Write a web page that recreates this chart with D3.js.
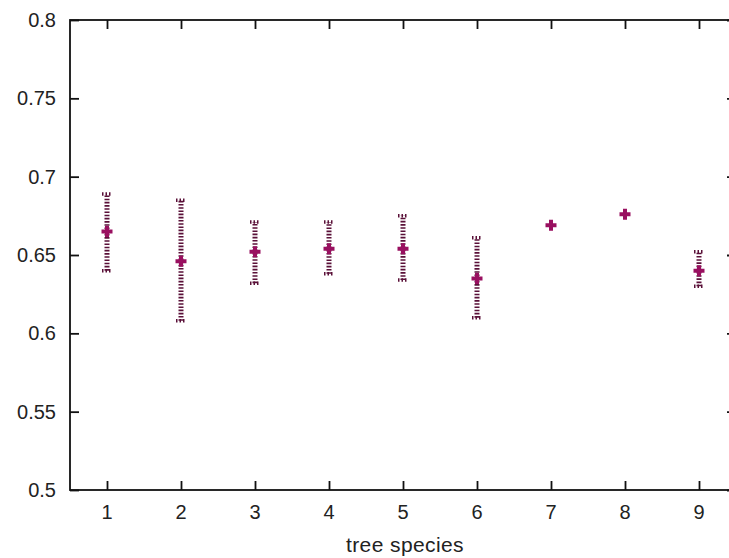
<!DOCTYPE html>
<html><head><meta charset="utf-8">
<script src="https://cdn.jsdelivr.net/npm/d3@7"></script>
<style>body{margin:0;background:#fff}svg{display:block}</style>
</head><body>
<svg id="c" width="729" height="558"></svg>
<script>
const categories = [1,2,3,4,5,6,7,8,9];
const means = [0.665,0.646,0.652,0.654,0.654,0.635,0.669,0.676,0.640];
const lows  = [0.640,0.608,0.632,0.638,0.634,0.610,null,null,0.630];
const highs = [0.689,0.685,0.671,0.671,0.675,0.661,null,null,0.652];
const yTicks = [0.5,0.55,0.6,0.65,0.7,0.75,0.8];
const yTickLabels = ["0.5","0.55","0.6","0.65","0.7","0.75","0.8"];
const xLabel = "tree species";

const svg = d3.select("#c");
const L=70, R=736, T=20, B=490;
const x = d3.scaleLinear().domain([0.5,9.5]).range([L,R]);
const y = d3.scaleLinear().domain([0.5,0.8]).range([B,T]);
const font = "'Liberation Sans', Arial, Helvetica, sans-serif";
const col = "#991060";
const barCol = "#5a1038";

// frame
svg.append("rect").attr("x",L).attr("y",T).attr("width",R-L).attr("height",B-T)
  .attr("fill","none").attr("stroke","#111").attr("stroke-width",1.8);

// axes
const yAx = svg.append("g").attr("transform",`translate(${L},0)`)
  .call(d3.axisRight(y).tickValues(yTicks).tickSize(9).tickFormat(""));
const yAxR = svg.append("g").attr("transform",`translate(${R},0)`)
  .call(d3.axisLeft(y).tickValues(yTicks).tickSize(9).tickFormat(""));
const xAx = svg.append("g").attr("transform",`translate(0,${B})`)
  .call(d3.axisTop(x).tickValues(categories).tickSize(9).tickFormat(""));
const xAxT = svg.append("g").attr("transform",`translate(0,${T})`)
  .call(d3.axisBottom(x).tickValues(categories).tickSize(9).tickFormat(""));
[yAx,yAxR,xAx,xAxT].forEach(g=>{
  g.select(".domain").remove();
  g.selectAll(".tick line").attr("stroke","#111").attr("stroke-width",1.8);
});

// tick labels
svg.append("g").selectAll("text").data(yTicks).join("text")
  .attr("x",L-14).attr("y",d=>y(d)).attr("dy","0.35em")
  .attr("text-anchor","end").attr("font-family",font).attr("font-size",20).attr("fill","#222")
  .text((d,i)=>yTickLabels[i]);
svg.append("g").selectAll("text").data(categories).join("text")
  .attr("x",d=>x(d)).attr("y",B+22).attr("dy","0.35em")
  .attr("text-anchor","middle").attr("font-family",font).attr("font-size",20).attr("fill","#222")
  .text(d=>d);
svg.append("text").attr("x",405).attr("y",545).attr("dy","0.35em")
  .attr("text-anchor","middle").attr("font-family",font).attr("font-size",21).attr("fill","#222")
  .attr("letter-spacing","0.4px")
  .text(xLabel);

// error bars
const eb = categories.map((c,i)=>({c,m:means[i],lo:lows[i],hi:highs[i]})).filter(d=>d.lo!=null);
const g = svg.append("g");
g.selectAll("line.bar").data(eb).join("line").attr("class","bar")
  .attr("x1",d=>x(d.c)).attr("x2",d=>x(d.c))
  .attr("y1",d=>y(d.lo)).attr("y2",d=>y(d.hi))
  .attr("stroke",barCol).attr("stroke-width",5).attr("stroke-dasharray","1.6,1.6");
["lo","hi"].forEach(k=>{
  g.selectAll("line.cap"+k).data(eb).join("line").attr("class","cap"+k)
    .attr("x1",d=>x(d.c)-5).attr("x2",d=>x(d.c)+5)
    .attr("y1",d=>y(d[k])).attr("y2",d=>y(d[k]))
    .attr("stroke",barCol).attr("stroke-width",3.5).attr("stroke-dasharray","1.5,2");
});

// plus markers
const pts = categories.map((c,i)=>({c,m:means[i]}));
g.selectAll("path.pt").data(pts).join("path").attr("class","pt")
  .attr("transform",d=>`translate(${x(d.c)},${y(d.m)})`)
  .attr("d","M-5.5,-2H-2V-5.5H2V-2H5.5V2H2V5.5H-2V2H-5.5Z")
  .attr("fill",col);
</script>
</body></html>
